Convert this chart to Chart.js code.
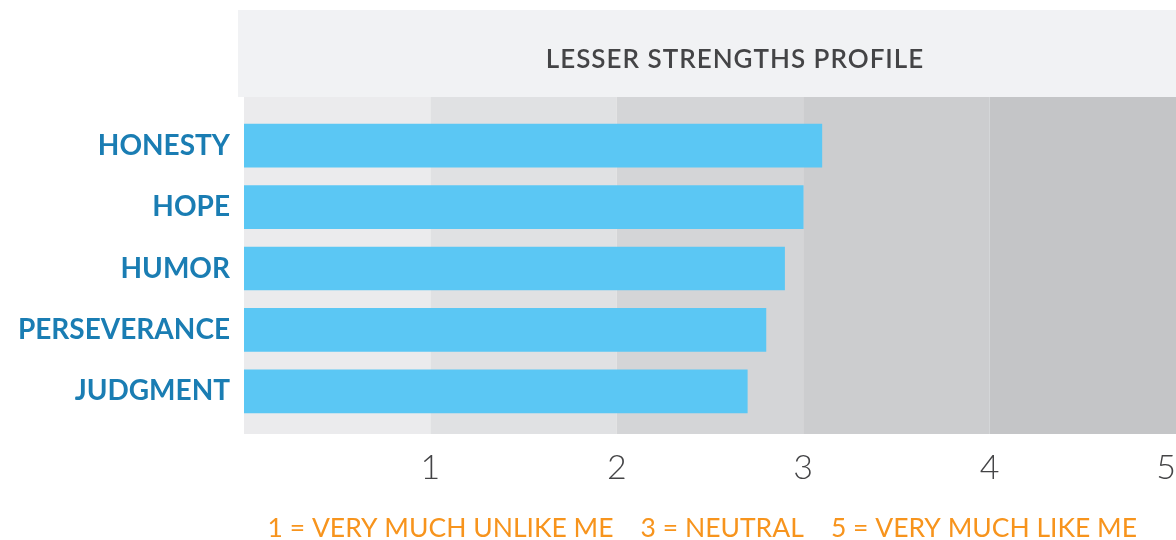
<!DOCTYPE html>
<html>
<head>
<meta charset="utf-8">
<script src="https://cdn.jsdelivr.net/npm/chart.js@4.4.1/dist/chart.umd.min.js"></script>
<style>
  html, body { margin: 0; padding: 0; background: #fff; }
  #wrap { width: 1176px; height: 540px; }
</style>
</head>
<body>
<div id="wrap"><canvas id="lesser_chart"></canvas></div>
<script>
var strengths   = ['HONESTY', 'HOPE', 'HUMOR', 'PERSEVERANCE', 'JUDGMENT'];
var scores      = [3.1, 3.0, 2.9, 2.8, 2.7];
var tick_values = [1, 2, 3, 4, 5];
var chart_title = 'LESSER STRENGTHS PROFILE';
var scale_note  = '1 = VERY MUCH UNLIKE ME    3 = NEUTRAL    5 = VERY MUCH LIKE ME';
var band_colors = ['#ebebed', '#e0e1e3', '#d4d5d7', '#cccdcf', '#c4c5c7'];

// grey bands behind the bars + the title box on top
const bandsPlugin = {
    id: 'bands',
    beforeDatasetsDraw: function (chart) {
        var ctx = chart.ctx;
        var area = chart.chartArea;
        var x = chart.scales.x;
        ctx.save();
        for (var i = 0; i < band_colors.length; i++) {
            var x0 = x.getPixelForValue(i);
            var x1 = x.getPixelForValue(i + 1);
            ctx.fillStyle = band_colors[i];
            ctx.fillRect(x0, area.top - 18, x1 - x0, area.bottom - area.top + 30);
        }
        // title box
        ctx.fillStyle = '#f1f2f4';
        ctx.fillRect(area.left - 6, 10, chart.width - area.left + 6, 87);
        ctx.fillStyle = '#444446';
        ctx.font = '600 26px Lato';
        ctx.letterSpacing = '1px';
        ctx.textAlign = 'center';
        ctx.textBaseline = 'middle';
        ctx.fillText(chart_title, 735, 60);
        ctx.restore();
    }
};

const data = {
    labels: strengths,
    datasets: [
        {
            label: chart_title,
            data: scores,
            backgroundColor: '#5bc7f4',
            borderWidth: 0,
            barThickness: 43
        }
    ]
};

const config = {
    type: 'bar',
    data: data,
    options: {
        indexAxis: 'y',
        responsive: true,
        maintainAspectRatio: false,
        animation: false,
        layout: { padding: { top: 115, right: 0, bottom: 0, left: 0 } },
        plugins: {
            legend: { display: false },
            tooltip: { enabled: false }
        },
        scales: {
            y: {
                grid: { display: false, drawTicks: false },
                border: { display: false },
                ticks: {
                    color: '#1a7db3',
                    font: { family: 'Lato', size: 28, weight: 'bold' },
                    padding: 14
                },
                afterFit: function (scale) { scale.width = 244; }
            },
            x: {
                min: 0,
                max: 5,
                grid: { display: false, drawTicks: false },
                border: { display: false },
                afterBuildTicks: function (scale) {
                    scale.ticks = tick_values.map(function (v) { return { value: v }; });
                },
                ticks: {
                    color: '#444446',
                    font: { family: 'Lato', size: 34, weight: '300' },
                    padding: 26,
                    maxRotation: 0,
                    // last label sits inside the right edge
                    callback: function (v) { return v === 5 ? '5\u2007' : String(v); }
                },
                title: {
                    display: true,
                    // trailing figure space nudges the centred note a little left
                    text: scale_note + '\u2007',
                    color: '#f7941d',
                    font: { family: 'Lato', size: 26.5, weight: 'normal' },
                    padding: { top: 0, bottom: -4 }
                },
                afterFit: function (scale) {
                    scale.paddingRight = 0;
                    scale.paddingLeft = 0;
                    scale.height = 118;
                }
            }
        }
    },
    plugins: [bandsPlugin]
};

var myChart = new Chart(
    document.getElementById('lesser_chart'),
    config
);
</script>
</body>
</html>
